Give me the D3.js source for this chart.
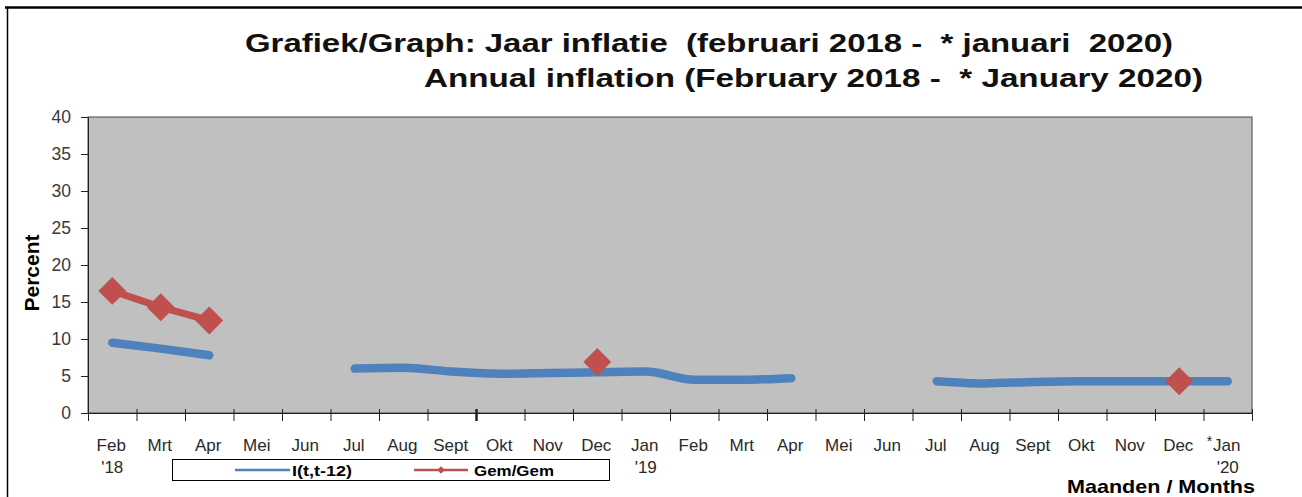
<!DOCTYPE html>
<html>
<head>
<meta charset="utf-8">
<script src="https://cdn.jsdelivr.net/npm/d3@7"></script>
<style>
  body { margin: 0; background: #fff; }
  svg { display: block; font-family: "Liberation Sans", Arial, sans-serif; }
</style>
</head>
<body>
<script>
// months on the x axis (Feb '18 .. Jan '20)
var months = ["Feb","Mrt","Apr","Mei","Jun","Jul","Aug","Sept","Okt","Nov","Dec","Jan",
              "Feb","Mrt","Apr","Mei","Jun","Jul","Aug","Sept","Okt","Nov","Dec","Jan"];
// year labels under some months
var yearLabels = {0: "'18", 11: "'19", 23: "'20"};

// I(t,t-12) - annual inflation
var inflation = [9.5, 8.7, 7.8, null, null, 6.0, 6.1, 5.6, 5.3, 5.4, 5.5, 5.6,
                 4.5, 4.5, 4.7, null, null, 4.3, 4.0, 4.2, 4.3, 4.3, 4.3, 4.3];
// Gem/Gem - average over average
var gemGem = [16.5, 14.3, 12.5, null, null, null, null, null, null, null, 6.9, null,
              null, null, null, null, null, null, null, null, null, null, 4.3, null];

var yTicks = [0, 5, 10, 15, 20, 25, 30, 35, 40];

var W = 1302, H = 497;
var margin = {top: 117, right: 50, bottom: 84, left: 88},
    width = W - margin.left - margin.right,
    height = H - margin.top - margin.bottom;

var svg = d3.select("body").append("svg")
    .attr("width", W)
    .attr("height", H);

// outer frame (top + left)
svg.append("line").attr("x1", 5).attr("x2", W).attr("y1", 7.5).attr("y2", 7.5)
    .attr("stroke", "#000").attr("stroke-width", 2.5);
svg.append("line").attr("x1", 7.5).attr("x2", 7.5).attr("y1", 7).attr("y2", H)
    .attr("stroke", "#000").attr("stroke-width", 1.5);

// titles
svg.append("text").attr("x", 245).attr("y", 52)
    .attr("textLength", 928).attr("lengthAdjust", "spacingAndGlyphs")
    .style("font-size", "26px").style("font-weight", "bold").attr("fill", "#111")
    .style("white-space", "pre")
    .text("Grafiek/Graph: Jaar inflatie  (februari 2018 -  * januari  2020)");
svg.append("text").attr("x", 424).attr("y", 87)
    .attr("textLength", 779).attr("lengthAdjust", "spacingAndGlyphs")
    .style("font-size", "26px").style("font-weight", "bold").attr("fill", "#111")
    .style("white-space", "pre")
    .text("Annual inflation (February 2018 -  * January 2020)");

var g = svg.append("g")
    .attr("transform", "translate(" + margin.left + "," + margin.top + ")");

// scales
var x = d3.scaleBand().domain(d3.range(months.length)).range([0, width]);
var xEdge = d3.scaleLinear().domain([0, months.length]).range([0, width]);
var y = d3.scaleLinear().domain([0, 40]).range([height, 0]);

// plot area
g.append("rect")
    .attr("width", width).attr("height", height)
    .attr("fill", "#c0c0c0")
    .attr("stroke", "#444").attr("stroke-width", 1);

// y axis
var yAxis = g.append("g")
    .call(d3.axisLeft(y).tickValues(yTicks).tickSize(7).tickPadding(10));
yAxis.select(".domain").attr("stroke", "#222");
yAxis.selectAll(".tick line").attr("stroke", "#222");
yAxis.selectAll("text").style("font-size", "17.5px").attr("fill", "#3a3a3a")
    .style("font-family", "Liberation Sans, Arial, sans-serif");

// x axis ticks at band edges
var xAxis = g.append("g")
    .attr("transform", "translate(0," + height + ")")
    .call(d3.axisBottom(xEdge).tickValues(d3.range(months.length + 1))
          .tickSize(8).tickSizeOuter(0).tickFormat(""));
xAxis.select(".domain").attr("stroke", "#222");
xAxis.selectAll(".tick line")
    .attr("stroke", "#222")
    .attr("y1", -4)
    .attr("stroke-width", function(d) { return d === 8 ? 2.5 : 1; });

// month labels
var labels = g.append("g").attr("transform", "translate(0," + height + ")");
labels.selectAll("text.month")
    .data(months)
  .enter().append("text")
    .attr("class", "month")
    .attr("x", function(d, i) { return x(i) + x.bandwidth() / 2 - 1; })
    .attr("y", 38)
    .attr("text-anchor", "middle")
    .style("font-size", "17px").attr("fill", "#2a2a2a")
    .text(function(d) { return d; });
labels.selectAll("text.year")
    .data(Object.keys(yearLabels))
  .enter().append("text")
    .attr("class", "year")
    .attr("x", function(d) { return x(+d) + x.bandwidth() / 2; })
    .attr("y", 60)
    .attr("text-anchor", "middle")
    .style("font-size", "17px").attr("fill", "#2a2a2a")
    .text(function(d) { return yearLabels[d]; });
// asterisk before last Jan
labels.append("text")
    .attr("x", x(23) + 6).attr("y", 33)
    .attr("text-anchor", "middle")
    .style("font-size", "14px").attr("fill", "#222")
    .text("*");

// y axis title
svg.append("text")
    .attr("transform", "translate(39,273) rotate(-90)")
    .attr("text-anchor", "middle")
    .style("font-size", "21px").style("font-weight", "bold").attr("fill", "#000")
    .text("Percent");

// x axis title
svg.append("text")
    .attr("x", 1255).attr("y", 493)
    .attr("text-anchor", "end")
    .attr("textLength", 188).attr("lengthAdjust", "spacingAndGlyphs")
    .style("font-size", "19px").style("font-weight", "bold").attr("fill", "#000")
    .text("Maanden / Months");

// lines
var blue = "#4f81bd", red = "#c0504d";
var cx = function(i) { return x(i) + x.bandwidth() / 2; };

var blueLine = d3.line()
    .defined(function(d) { return d != null; })
    .x(function(d, i) { return cx(i); })
    .y(function(d) { return y(d); })
    .curve(d3.curveMonotoneX);

g.append("path")
    .datum(inflation)
    .attr("d", blueLine)
    .attr("fill", "none")
    .attr("stroke", blue)
    .attr("stroke-width", 8.5)
    .attr("stroke-linecap", "round")
    .attr("stroke-linejoin", "round");

var redLine = d3.line()
    .defined(function(d) { return d != null; })
    .x(function(d, i) { return cx(i); })
    .y(function(d) { return y(d); });

g.append("path")
    .datum(gemGem)
    .attr("d", redLine)
    .attr("fill", "none")
    .attr("stroke", red)
    .attr("stroke-width", 7)
    .attr("stroke-linejoin", "round");

var diamond = d3.symbol().type(d3.symbolSquare).size(390);
g.selectAll(".marker")
    .data(gemGem.map(function(v, i) { return {v: v, i: i}; })
                .filter(function(d) { return d.v != null; }))
  .enter().append("path")
    .attr("class", "marker")
    .attr("d", diamond)
    .attr("transform", function(d) {
      return "translate(" + cx(d.i) + "," + y(d.v) + ") rotate(45)";
    })
    .attr("fill", red);

// legend
var leg = svg.append("g");
leg.append("rect")
    .attr("x", 172.5).attr("y", 459.5).attr("width", 437).attr("height", 21)
    .attr("fill", "#fff").attr("stroke", "#000").attr("stroke-width", 1);
leg.append("line").attr("x1", 235).attr("x2", 290).attr("y1", 470).attr("y2", 470)
    .attr("stroke", blue).attr("stroke-width", 2.5);
leg.append("text").attr("x", 292).attr("y", 475.5)
    .attr("textLength", 60).attr("lengthAdjust", "spacingAndGlyphs")
    .style("font-size", "15px").style("font-weight", "bold").attr("fill", "#000")
    .text("I(t,t-12)");
leg.append("line").attr("x1", 414).attr("x2", 468).attr("y1", 470).attr("y2", 470)
    .attr("stroke", red).attr("stroke-width", 2.5);
leg.append("path")
    .attr("d", d3.symbol().type(d3.symbolSquare).size(30))
    .attr("transform", "translate(441,470) rotate(45)")
    .attr("fill", red);
leg.append("text").attr("x", 474).attr("y", 475.5)
    .attr("textLength", 80).attr("lengthAdjust", "spacingAndGlyphs")
    .style("font-size", "15px").style("font-weight", "bold").attr("fill", "#000")
    .text("Gem/Gem");
</script>
</body>
</html>
